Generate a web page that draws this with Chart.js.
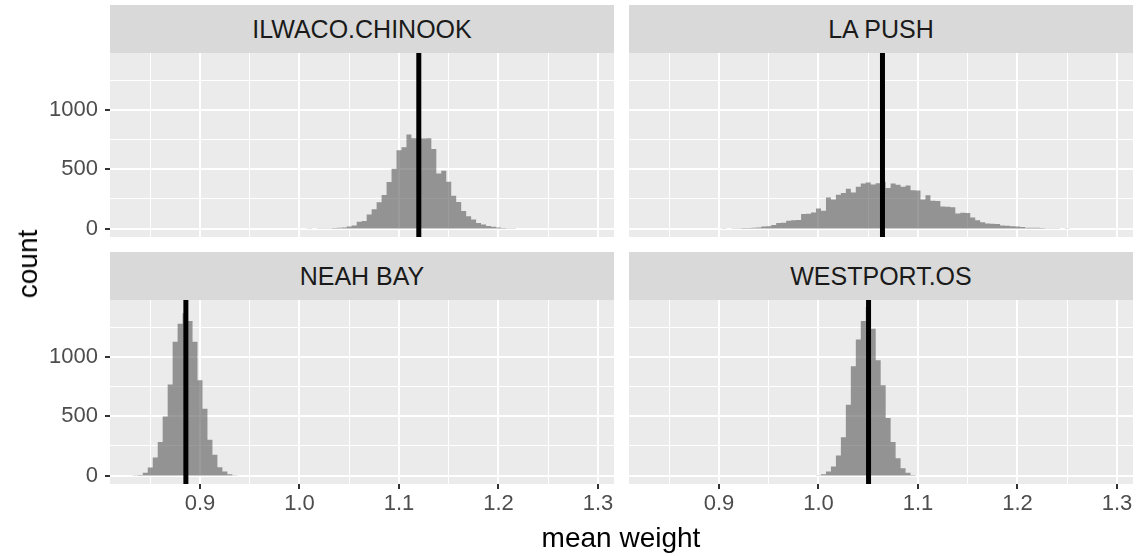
<!DOCTYPE html>
<html>
<head>
<meta charset="utf-8">
<script src="https://cdn.jsdelivr.net/npm/chart.js@4.4.1/dist/chart.umd.min.js"></script>
<style>
  html, body { margin: 0; padding: 0; background: #ffffff; }
  #wrap { position: relative; width: 1140px; height: 556px; overflow: hidden;
          font-family: "Liberation Sans", Arial, sans-serif; }
  .strip { position: absolute; background: #D9D9D9; color: #1A1A1A; font-size: 25px;
           display: flex; align-items: center; justify-content: center; }
  .panel { position: absolute; }
  .title { position: absolute; color: #000; font-size: 28px; white-space: nowrap; }
</style>
</head>
<body>
<div id="wrap">
  <div class="strip" id="s0" style="left:110px; top:5px;   width:504px; height:48px;"></div>
  <div class="strip" id="s1" style="left:629px; top:5px;   width:504px; height:48px;"></div>
  <div class="strip" id="s2" style="left:110px; top:252px; width:504px; height:48px;"></div>
  <div class="strip" id="s3" style="left:629px; top:252px; width:504px; height:48px;"></div>

  <div class="panel" style="left:0px;   top:53px;  width:614px; height:184px;"><canvas id="c0"></canvas></div>
  <div class="panel" style="left:629px; top:53px;  width:504px; height:184px;"><canvas id="c1"></canvas></div>
  <div class="panel" style="left:0px;   top:300px; width:614px; height:256px;"><canvas id="c2"></canvas></div>
  <div class="panel" style="left:629px; top:300px; width:504px; height:256px;"><canvas id="c3"></canvas></div>

  <div class="title" id="ytitle" style="left:28px; top:264px; transform: translate(-50%, -50%) rotate(-90deg);"></div>
  <div class="title" id="xtitle" style="left:621px; top:538px; transform: translate(-50%, -50%);"></div>
</div>
<script>
// ---------------- data ----------------
const facetNames = ["ILWACO.CHINOOK", "LA PUSH", "NEAH BAY", "WESTPORT.OS"];
const xTitle = "mean weight";
const yTitle = "count";

const xMajorTicks = [0.9, 1.0, 1.1, 1.2, 1.3];
const xTickLabels = ["0.9", "1.0", "1.1", "1.2", "1.3"];
const xMinorTicks = [0.85, 0.95, 1.05, 1.15, 1.25];
const yMajorTicks = [0, 500, 1000];
const yTickLabels = ["0", "500", "1000"];
const yMinorTicks = [250, 750, 1250];

// mean weight (vertical line) per facet
const means = [1.1199, 1.0643, 0.8858, 1.0503];

// histogram bins (centers) and counts, binwidth 0.005
const ilwacoBins = [1.000, 1.005, 1.010, 1.015, 1.020, 1.025, 1.030, 1.035, 1.040, 1.045,
  1.050, 1.055, 1.060, 1.065, 1.070, 1.075, 1.080, 1.085, 1.090, 1.095,
  1.100, 1.105, 1.110, 1.115, 1.120, 1.125, 1.130, 1.135, 1.140, 1.145,
  1.150, 1.155, 1.160, 1.165, 1.170, 1.175, 1.180, 1.185, 1.190, 1.195,
  1.200, 1.205, 1.210, 1.215, 1.220];
const ilwacoCounts = [0, 1, 2, 1, 2, 3, 3, 4, 6, 9,
  17, 25, 58, 64, 118, 163, 222, 282, 392, 504,
  660, 685, 792, 761, 762, 760, 762, 671, 465, 487,
  394, 276, 225, 149, 104, 76, 47, 34, 22, 15,
  9, 5, 3, 2, 0];

const lapushBins = [0.885, 0.890, 0.895, 0.900, 0.905, 0.910, 0.915, 0.920, 0.925, 0.930,
  0.935, 0.940, 0.945, 0.950, 0.955, 0.960, 0.965, 0.970, 0.975, 0.980,
  0.985, 0.990, 0.995, 1.000, 1.005, 1.010, 1.015, 1.020, 1.025, 1.030,
  1.035, 1.040, 1.045, 1.050, 1.055, 1.060, 1.065, 1.070, 1.075, 1.080,
  1.085, 1.090, 1.095, 1.100, 1.105, 1.110, 1.115, 1.120, 1.125, 1.130,
  1.135, 1.140, 1.145, 1.150, 1.155, 1.160, 1.165, 1.170, 1.175, 1.180,
  1.185, 1.190, 1.195, 1.200, 1.205, 1.210, 1.215, 1.220, 1.225, 1.230,
  1.235, 1.240, 1.245, 1.250, 1.255, 1.260, 1.265, 1.270, 1.275, 1.280,
  1.285, 1.290, 1.295];
const lapushCounts = [0, 1, 0, 1, 2, 1, 3, 3, 4, 5,
  8, 9, 18, 20, 31, 46, 49, 65, 70, 72,
  122, 126, 135, 169, 150, 262, 245, 285, 300, 335,
  304, 352, 380, 389, 372, 383, 395, 341, 380, 369,
  352, 363, 324, 322, 245, 280, 234, 232, 186, 184,
  180, 127, 133, 131, 93, 70, 53, 42, 41, 38,
  25, 24, 19, 18, 14, 8, 8, 7, 5, 3,
  3, 2, 1, 2, 1, 1, 0, 1, 0, 1,
  0, 1, 0];

const neahbayBins = [0.830, 0.835, 0.840, 0.845, 0.850, 0.855, 0.860, 0.865, 0.870, 0.875,
  0.880, 0.885, 0.890, 0.895, 0.900, 0.905, 0.910, 0.915, 0.920, 0.925,
  0.930, 0.935, 0.940];
const neahbayCounts = [0, 2, 4, 23, 68, 152, 282, 499, 767, 1128,
  1280, 1368, 1303, 1128, 803, 564, 302, 175, 70, 34,
  11, 2, 0];

const westportBins = [0.995, 1.000, 1.005, 1.010, 1.015, 1.020, 1.025, 1.030, 1.035, 1.040,
  1.045, 1.050, 1.055, 1.060, 1.065, 1.070, 1.075, 1.080, 1.085, 1.090,
  1.095, 1.100];
const westportCounts = [0, 2, 11, 34, 76, 169, 324, 598, 922, 1148,
  1303, 1420, 1238, 973, 761, 485, 282, 147, 62, 23,
  5, 0];

// ---------------- styling constants ----------------
const FONT = '"Liberation Sans", Arial, sans-serif';
const X_MIN = 0.80955, X_MAX = 1.31608;
const Y_MIN = -71, Y_MAX = 1480;
const PANEL_BG = '#EBEBEB';
const BAR_FILL = 'rgba(89,89,89,0.6)';

document.getElementById('s0').textContent = facetNames[0];
document.getElementById('s1').textContent = facetNames[1];
document.getElementById('s2').textContent = facetNames[2];
document.getElementById('s3').textContent = facetNames[3];
document.getElementById('xtitle').textContent = xTitle;
document.getElementById('ytitle').textContent = yTitle;

const isIn = (arr, v) => arr.some(a => Math.abs(a - v) < 1e-9);
const labelFor = (majors, labels, v) => {
  for (let i = 0; i < majors.length; i++) if (Math.abs(majors[i] - v) < 1e-9) return labels[i];
  return '';
};

const panelBg = {
  id: 'panelBg',
  beforeDraw(chart) {
    const { ctx, chartArea: a } = chart;
    ctx.save();
    ctx.fillStyle = PANEL_BG;
    ctx.fillRect(a.left, a.top, a.right - a.left, a.bottom - a.top);
    ctx.restore();
  }
};

const vline = {
  id: 'vline',
  afterDatasetsDraw(chart, args, opts) {
    const { ctx, chartArea: a } = chart;
    const x = chart.scales.x.getPixelForValue(opts.value);
    ctx.save();
    ctx.beginPath();
    ctx.rect(a.left, a.top, a.right - a.left, a.bottom - a.top);
    ctx.clip();
    ctx.strokeStyle = '#000000';
    ctx.lineWidth = 5;
    ctx.beginPath();
    ctx.moveTo(x, a.top);
    ctx.lineTo(x, a.bottom);
    ctx.stroke();
    ctx.restore();
  }
};

function zeroPad(s) { s.paddingTop = 0; s.paddingBottom = 0; s.paddingLeft = 0; s.paddingRight = 0; }

function makeChart(id, bins, counts, meanVal, showX, showY) {
  const allX = xMajorTicks.concat(xMinorTicks).sort((a, b) => a - b);
  const allY = yMajorTicks.concat(yMinorTicks).sort((a, b) => a - b);
  const gridW = (majors) => (c) => (c.tick && isIn(majors, c.tick.value)) ? 2 : 1;
  const tickCol = (majors) => (c) => (c.tick && isIn(majors, c.tick.value)) ? '#333333' : 'rgba(0,0,0,0)';
  return new Chart(document.getElementById(id), {
    type: 'line',
    data: {
      datasets: [{
        data: bins.map((b, i) => ({ x: b, y: counts[i] })),
        stepped: 'middle',
        fill: 'origin',
        backgroundColor: BAR_FILL,
        borderColor: 'rgba(0,0,0,0)',
        borderWidth: 0,
        pointRadius: 0,
        pointHoverRadius: 0
      }]
    },
    options: {
      responsive: true,
      maintainAspectRatio: false,
      animation: false,
      events: [],
      layout: { padding: 0 },
      plugins: { legend: { display: false }, tooltip: { enabled: false }, vline: { value: meanVal } },
      scales: {
        x: {
          type: 'linear', min: X_MIN, max: X_MAX,
          afterBuildTicks: (s) => { s.ticks = allX.map(v => ({ value: v })); },
          afterFit: (s) => { zeroPad(s); s.height = showX ? 72 : 0; },
          border: { display: false },
          grid: {
            color: '#FFFFFF', lineWidth: gridW(xMajorTicks),
            drawTicks: showX, tickLength: 5, tickColor: tickCol(xMajorTicks), tickWidth: 2
          },
          ticks: {
            display: showX, autoSkip: false, maxRotation: 0, minRotation: 0, padding: 2,
            color: '#4D4D4D', font: { family: FONT, size: 22 },
            callback: (v) => labelFor(xMajorTicks, xTickLabels, v)
          }
        },
        y: {
          type: 'linear', min: Y_MIN, max: Y_MAX,
          afterBuildTicks: (s) => { s.ticks = allY.map(v => ({ value: v })); },
          afterFit: (s) => { zeroPad(s); s.width = showY ? 110 : 0; },
          border: { display: false },
          grid: {
            color: '#FFFFFF', lineWidth: gridW(yMajorTicks),
            drawTicks: showY, tickLength: 5, tickColor: tickCol(yMajorTicks), tickWidth: 2
          },
          ticks: {
            display: showY, autoSkip: false, padding: 7,
            color: '#4D4D4D', font: { family: FONT, size: 22 },
            callback: (v) => labelFor(yMajorTicks, yTickLabels, v)
          }
        }
      }
    },
    plugins: [panelBg, vline]
  });
}

makeChart('c0', ilwacoBins, ilwacoCounts, means[0], false, true);
makeChart('c1', lapushBins, lapushCounts, means[1], false, false);
makeChart('c2', neahbayBins, neahbayCounts, means[2], true, true);
makeChart('c3', westportBins, westportCounts, means[3], true, false);
</script>
</body>
</html>
